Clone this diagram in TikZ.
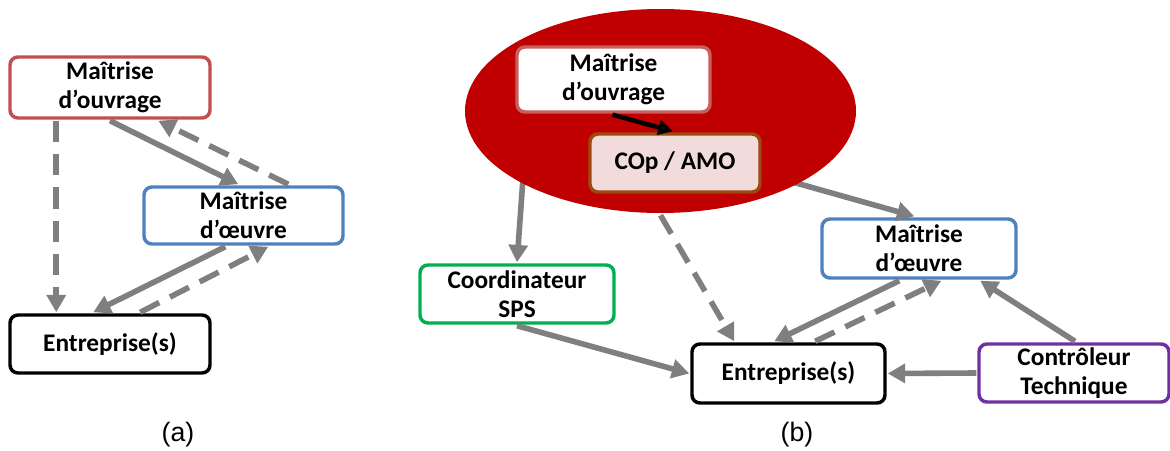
\documentclass[tikz,border=0pt]{standalone}
\usepackage{fontspec}
\setmainfont{Carlito}
\newfontfamily\labfont{Liberation Sans}
\usetikzlibrary{arrows.meta,shapes.geometric}
\definecolor{arrgray}{HTML}{7F7F7F}
\definecolor{moRed}{HTML}{C0504D}
\definecolor{moRedL}{HTML}{CB5F5E}
\definecolor{moeBlue}{HTML}{4F81BD}
\definecolor{spsGreen}{HTML}{00B050}
\definecolor{ctPurple}{HTML}{7030A0}
\definecolor{ellRed}{HTML}{C00000}
\definecolor{copFill}{HTML}{F2DCDB}
\definecolor{copBorder}{HTML}{9C4A0F}
\begin{document}
\begin{tikzpicture}[x=0.75pt,y=-0.75pt,
  box/.style={draw,line width=2.6pt,rounded corners=6pt,fill=white,align=center,
    font=\bfseries\fontsize{19}{21.5}\selectfont,inner sep=0pt},
  conn/.style={draw=arrgray,line width=4.2pt,-{Triangle[length=13pt,width=14pt]},shorten >=0pt},
  dconn/.style={conn,dash pattern=on 16pt off 9pt},
  lab/.style={font=\labfont\fontsize{20}{22}\selectfont}
]
\useasboundingbox (0,0) rectangle (1170,450);
% ---------- (a) ----------
\node[box,draw=moRed,minimum width=200*0.75pt,minimum height=61*0.75pt] (A1) at (110,87.5) {Maîtrise\\d’ouvrage};
\node[box,draw=moeBlue,minimum width=199*0.75pt,minimum height=57*0.75pt] (A2) at (243.5,215.5) {Maîtrise\\d’œuvre};
\node[box,draw=black,minimum width=200*0.75pt,minimum height=58*0.75pt] (A3) at (110,344) {Entreprise(s)};
\draw[dconn] ([shift={(48,1)}]A1.south west) -- ([shift={(48,-1)}]A3.north west);
\draw[conn] ([shift={(0,1)}]A1.south) -- ([shift={(96,-1)}]A2.north west);
\draw[dconn] ([shift={(146,-1)}]A2.north west) -- ([shift={(150,1)}]A1.south west);
\draw[conn] ([shift={(83,1)}]A2.south west) -- ([shift={(85,-1)}]A3.north west);
\draw[dconn] ([shift={(132,-1)}]A3.north west) -- ([shift={(126,1)}]A2.south west);
\node[lab] (la) at (178,435) {(a)};
% ---------- (b) ----------
\coordinate (Ec) at (660.5,111);
\node[box,draw=spsGreen,minimum width=194*0.75pt,minimum height=58*0.75pt] (B3) at (517,294) {Coordinateur\\SPS};
\node[box,draw=moeBlue,minimum width=194*0.75pt,minimum height=59*0.75pt] (B5) at (919,248.5) {Maîtrise\\d’œuvre};
\node[box,draw=black,minimum width=193*0.75pt,minimum height=59*0.75pt] (B4) at (788.5,373.5) {Entreprise(s)};
\node[box,draw=ctPurple,minimum width=190*0.75pt,minimum height=58*0.75pt] (B6) at (1074,373) {Contrôleur\\Technique};
% connectors leaving from behind the ellipse
\draw[conn] ([shift={(-137,60)}]Ec) -- ([shift={(0,-1)}]B3.north);
\draw[conn] ([shift={(100,62)}]Ec) -- ([shift={(94,-1)}]B5.north west);
\node[ellipse,fill=ellRed,minimum width=391*0.75pt,minimum height=204*0.75pt,inner sep=0pt] (E) at (Ec) {};
\node[box,draw=moRedL,minimum width=193*0.75pt,minimum height=65*0.75pt] (B1) at (613.5,79.5) {Maîtrise\\d’ouvrage};
\node[box,draw=copBorder,fill=copFill,minimum width=170*0.75pt,minimum height=58*0.75pt] (B2) at (675,163) {COp / AMO};
\draw[draw=black,line width=3.4pt,-{Triangle[length=11pt,width=11pt]}] ([shift={(-1,1)}]B1.south) -- ([shift={(-2,-1)}]B2.north);
\draw[dconn] ([shift={(0,2)}]E.south) -- ([shift={(44,-1)}]B4.north west);
\draw[conn] ([shift={(0,1)}]B3.south) -- ([shift={(-1,0)}]B4.west);
\draw[conn] ([shift={(79,1)}]B5.south west) -- ([shift={(84,-1)}]B4.north west);
\draw[dconn] ([shift={(125,-1)}]B4.north west) -- ([shift={(121,1)}]B5.south west);
\draw[conn] ([shift={(1,-1)}]B6.north) -- ([shift={(160,1)}]B5.south west);
\draw[conn] ([shift={(-1,0)}]B6.west) -- ([shift={(1,0)}]B4.east);
\node[lab] (lb) at (797,435) {(b)};
\end{tikzpicture}
\end{document}
